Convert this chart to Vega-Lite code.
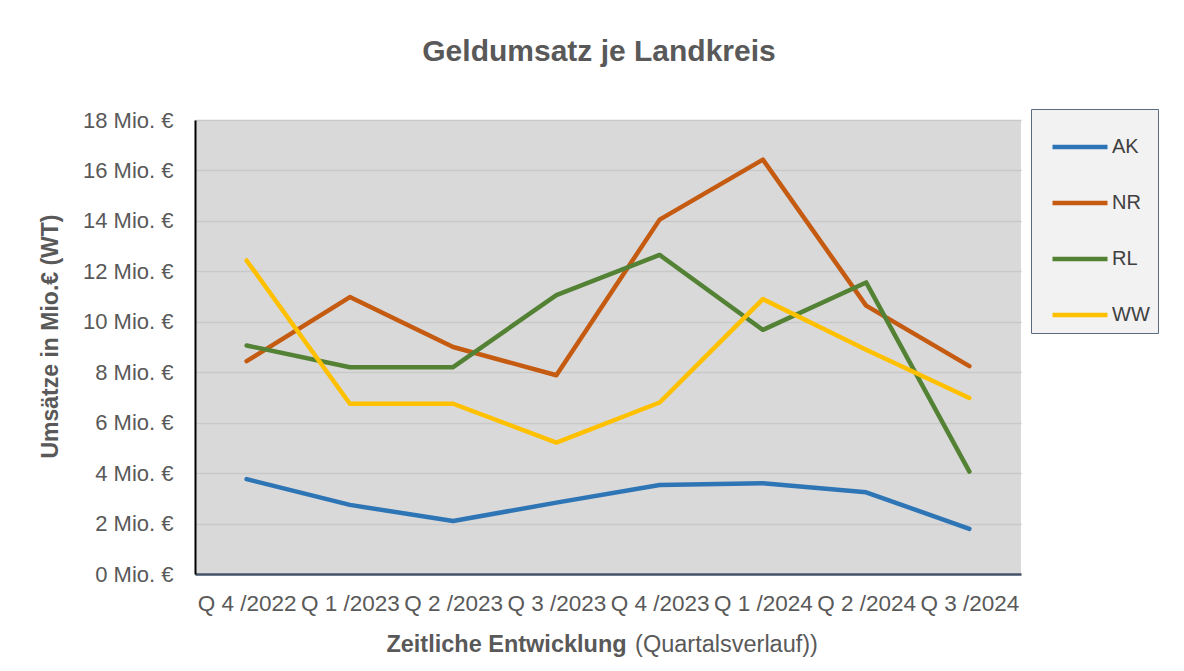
{
  "$schema": "https://vega.github.io/schema/vega-lite/v6.json",
  "autosize": "none",
  "width": 826,
  "height": 454,
  "padding": {"left": 195, "top": 120, "right": 163, "bottom": 97},
  "background": "white",
  "title": {
    "text": "Geldumsatz je Landkreis",
    "font": "Liberation Sans",
    "fontSize": 30,
    "fontWeight": "bold",
    "color": "#595959",
    "anchor": "middle",
    "frame": "group",
    "offset": 42,
    "dx": -9
  },
  "data": {
    "values": [
      {"quartal": "Q 4 /2022", "kreis": "AK", "wert": 3.76},
      {"quartal": "Q 1 /2023", "kreis": "AK", "wert": 2.74},
      {"quartal": "Q 2 /2023", "kreis": "AK", "wert": 2.1},
      {"quartal": "Q 3 /2023", "kreis": "AK", "wert": 2.83},
      {"quartal": "Q 4 /2023", "kreis": "AK", "wert": 3.53},
      {"quartal": "Q 1 /2024", "kreis": "AK", "wert": 3.6},
      {"quartal": "Q 2 /2024", "kreis": "AK", "wert": 3.24},
      {"quartal": "Q 3 /2024", "kreis": "AK", "wert": 1.79},
      {"quartal": "Q 4 /2022", "kreis": "NR", "wert": 8.44},
      {"quartal": "Q 1 /2023", "kreis": "NR", "wert": 10.98},
      {"quartal": "Q 2 /2023", "kreis": "NR", "wert": 9.0},
      {"quartal": "Q 3 /2023", "kreis": "NR", "wert": 7.88},
      {"quartal": "Q 4 /2023", "kreis": "NR", "wert": 14.05},
      {"quartal": "Q 1 /2024", "kreis": "NR", "wert": 16.43},
      {"quartal": "Q 2 /2024", "kreis": "NR", "wert": 10.64},
      {"quartal": "Q 3 /2024", "kreis": "NR", "wert": 8.24},
      {"quartal": "Q 4 /2022", "kreis": "RL", "wert": 9.06},
      {"quartal": "Q 1 /2023", "kreis": "RL", "wert": 8.2},
      {"quartal": "Q 2 /2023", "kreis": "RL", "wert": 8.2},
      {"quartal": "Q 3 /2023", "kreis": "RL", "wert": 11.06},
      {"quartal": "Q 4 /2023", "kreis": "RL", "wert": 12.65},
      {"quartal": "Q 1 /2024", "kreis": "RL", "wert": 9.68},
      {"quartal": "Q 2 /2024", "kreis": "RL", "wert": 11.56},
      {"quartal": "Q 3 /2024", "kreis": "RL", "wert": 4.06},
      {"quartal": "Q 4 /2022", "kreis": "WW", "wert": 12.43},
      {"quartal": "Q 1 /2023", "kreis": "WW", "wert": 6.75},
      {"quartal": "Q 2 /2023", "kreis": "WW", "wert": 6.75},
      {"quartal": "Q 3 /2023", "kreis": "WW", "wert": 5.21},
      {"quartal": "Q 4 /2023", "kreis": "WW", "wert": 6.8},
      {"quartal": "Q 1 /2024", "kreis": "WW", "wert": 10.9},
      {"quartal": "Q 2 /2024", "kreis": "WW", "wert": 8.89},
      {"quartal": "Q 3 /2024", "kreis": "WW", "wert": 6.98}
    ]
  },
  "layer": [
    {
      "mark": {"type": "line", "strokeWidth": 4.5, "strokeCap": "round", "strokeJoin": "round"},
      "encoding": {
        "x": {
          "field": "quartal",
          "type": "ordinal",
          "sort": null,
          "scale": {"type": "point", "padding": 0.5},
          "axis": {
            "orient": "bottom",
            "title": "Zeitliche Entwicklung",
            "titleFontWeight": "bold",
            "titleX": 311,
            "titleY": 70,
            "titleAlign": "center",
            "titleBaseline": "middle",
            "labelAngle": 0,
            "labelPadding": 18,
            "labelFontSize": 22.5,
            "labelOverlap": false,
            "tickSize": 0,
            "ticks": false,
            "domainColor": "#44546a",
            "domainWidth": 2.5,
            "grid": false
          }
        },
        "y": {
          "field": "wert",
          "type": "quantitative",
          "scale": {"domain": [0, 18], "nice": false},
          "axis": {
            "title": "Umsätze in Mio.€ (WT)",
            "values": [0, 2, 4, 6, 8, 10, 12, 14, 16, 18],
            "labelExpr": "datum.value + ' Mio. €'",
            "labelFontSize": 22,
            "titleFontWeight": "bold",
            "titleFontSize": 23,
            "titleX": -145,
            "titleY": 216,
            "titleAlign": "center",
            "titleBaseline": "middle",
            "titleAngle": -90,
            "ticks": false,
            "tickSize": 0,
            "labelPadding": 22,
            "domainColor": "#000000",
            "domainWidth": 2,
            "grid": true,
            "gridColor": "#c9c9c9",
            "gridWidth": 1.5
          }
        },
        "color": {
          "field": "kreis",
          "type": "nominal",
          "scale": {"domain": ["AK", "NR", "RL", "WW"], "range": ["#2e75b6", "#c55a11", "#548235", "#ffc000"]},
          "legend": {
            "title": null,
            "orient": "none",
            "legendX": 836,
            "legendY": -11,
            "direction": "vertical",
            "symbolType": "stroke",
            "symbolSize": 3025,
            "symbolStrokeWidth": 4.5,
            "symbolOffset": 11,
            "labelOffset": 2,
            "labelFont": "Liberation Sans",
            "labelFontSize": 20,
            "labelColor": "#404040",
            "labelExpr": "datum.label + '\u00a0\u00a0\u00a0'",
            "rowPadding": 16,
            "padding": 8,
            "fillColor": "#f2f2f2",
            "strokeColor": "#5b6b82"
          }
        }
      }
    },
    {
      "mark": {"type": "line", "opacity": 0},
      "encoding": {
        "x": {
          "field": "quartal",
          "type": "ordinal",
          "sort": null,
          "scale": {"type": "point", "padding": 0.5},
          "axis": {
            "orient": "bottom",
            "title": "(Quartalsverlauf))",
            "titleFontWeight": "normal",
            "titleX": 531,
            "titleY": 70,
            "titleAlign": "center",
            "titleBaseline": "middle",
            "labels": false,
            "ticks": false,
            "domain": false,
            "grid": false
          }
        },
        "y": {"field": "wert", "type": "quantitative"},
        "detail": {"field": "kreis"}
      }
    }
  ],
  "resolve": {"axis": {"x": "independent"}},
  "config": {
    "view": {"fill": "#d9d9d9", "stroke": null},
    "axis": {
      "labelFont": "Liberation Sans",
      "labelFontSize": 21,
      "labelColor": "#595959",
      "titleFont": "Liberation Sans",
      "titleFontSize": 23.5,
      "titleColor": "#595959"
    }
  }
}
